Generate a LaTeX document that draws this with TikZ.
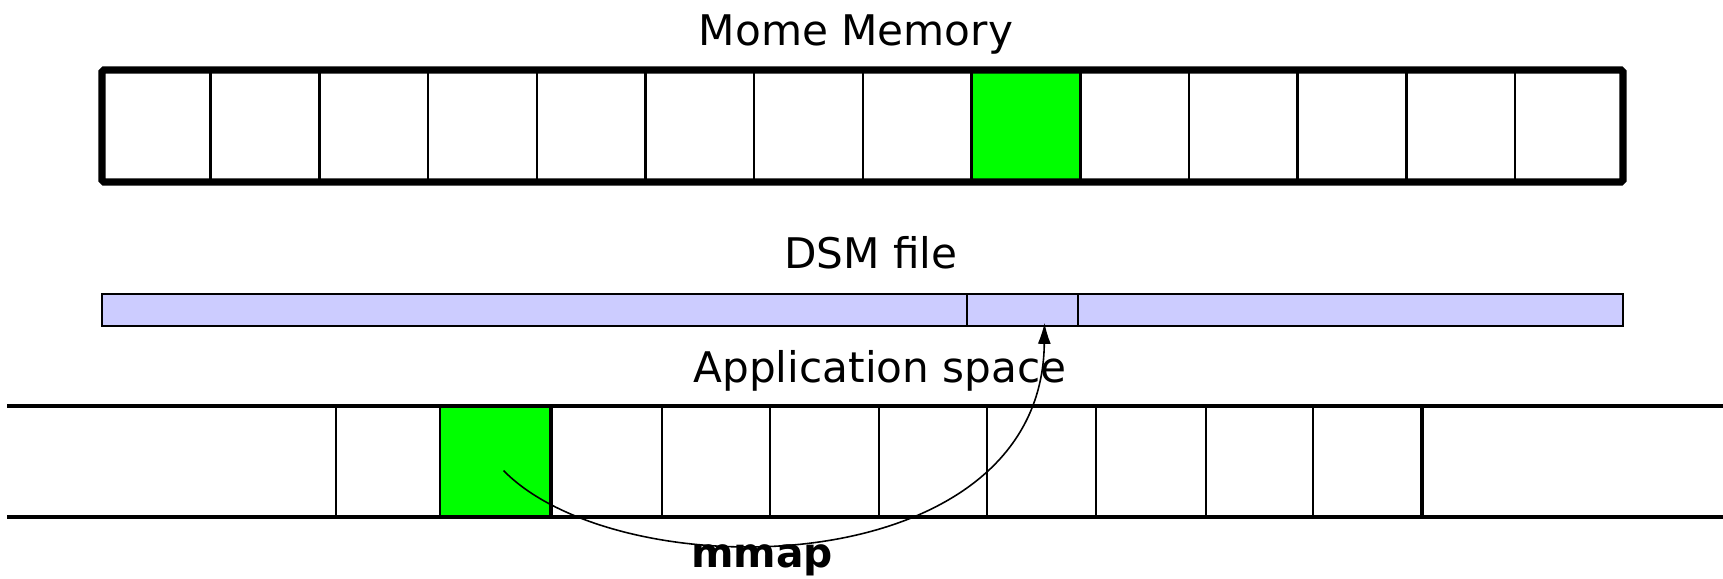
\documentclass[tikz,border=0pt]{standalone}
\usepackage{fontspec}
\setmainfont{DejaVu Sans}
\usetikzlibrary{arrows.meta, positioning, calc}
\definecolor{memgreen}{RGB}{0,255,0}
\definecolor{dsmblue}{RGB}{204,204,255}
\tikzset{
  title/.style={anchor=base, font=\fontsize{12}{14}\selectfont},
  cellline/.style={line width=0.7pt},
  bandline/.style={line width=0.9pt},
  dsmbar/.style={fill=dsmblue, draw=black, line width=0.6pt},
}

\begin{document}
\begin{tikzpicture}[x=0.01cm, y=-0.01cm]
            \def\cw{108.7}
            \useasboundingbox (0,0) rectangle (1723,578);

            \node[title] (memtitle) at (856,45) {Mome Memory};
            \fill[memgreen] (102+8*\cw,70) rectangle (102+9*\cw,182) node[midway] (memsel) {};
            \foreach \i in {1,...,13}
              \draw[cellline] (102+\i*\cw,70) -- (102+\i*\cw,182);
            \draw[line width=2pt, rounded corners=0.5pt] (102,70) rectangle (1623,182);

            \node[title] (dsmtitle) at (871,268) {DSM file};
            \draw[dsmbar] (102,294) rectangle (967,326);
            \draw[dsmbar] (967,294) rectangle (1078,326) node[midway] (dsmsel) {};
            \draw[dsmbar] (1078,294) rectangle (1623,326);

            \node[title] (apptitle) at (880,382) {Application space};
            \fill[memgreen] (440,406) rectangle (551,517) node[midway] (appsel) {};
            \foreach \x in {336,440,662,770,879,987,1096,1206,1313}
              \draw[cellline] (\x,406) -- (\x,517);
            \foreach \x in {551,1422}
              \draw[bandline] (\x,406) -- (\x,517);
            \draw[bandline] (7,406) -- (1723,406);
            \draw[bandline] (7,517) -- (1723,517);

            \node[title, font=\fontsize{11.6}{14}\selectfont\bfseries] (mmaplabel) at (762,567) {mmap};
            \draw[-{Latex[length=0.21cm, width=0.13cm]}, line width=0.45pt]
              ($(appsel.center)+(8,9)$) .. controls (620,590) and (1042,585) .. ($(dsmsel.south)+(22,0)$);
\end{tikzpicture}
\end{document}
